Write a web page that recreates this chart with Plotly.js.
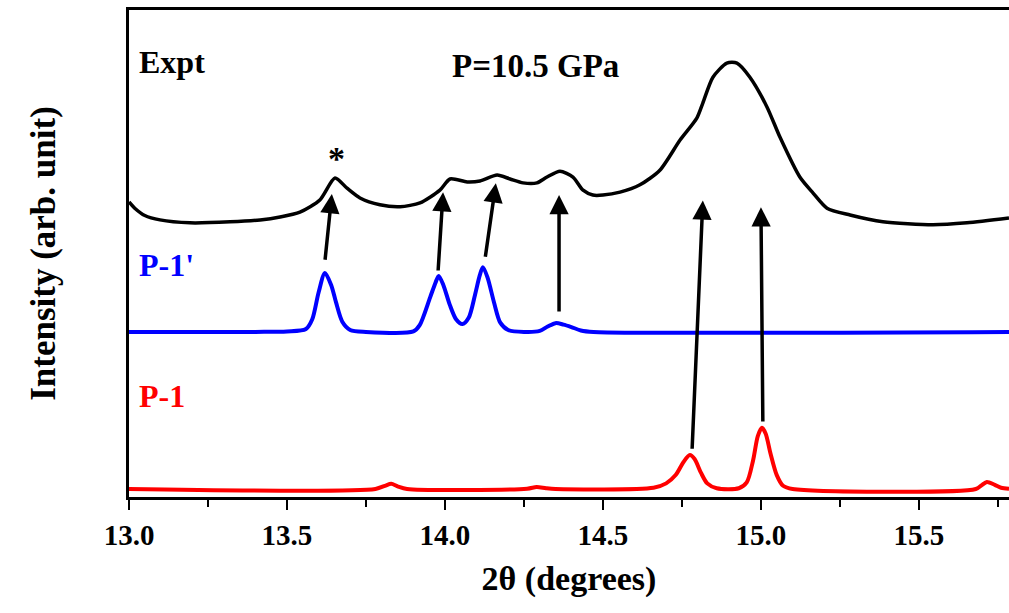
<!DOCTYPE html>
<html>
<head>
<meta charset="utf-8">
<script src="https://cdn.plot.ly/plotly-3.0.1.min.js"></script>
<style>html,body{margin:0;padding:0;background:#fff;}#chart{width:1009px;height:613px;}</style>
</head>
<body>
<div id="chart"></div>
<script>
// Experimental pattern (2θ in degrees, intensity offset, arb. unit)
const exptX = [13.00,13.02,13.05,13.098,13.193,13.320,13.415,13.478,13.541,13.604,13.652,13.690,13.731,13.794,13.858,13.921,13.984,14.016,14.070,14.111,14.165,14.206,14.247,14.291,14.323,14.364,14.405,14.437,14.468,14.500,14.554,14.617,14.680,14.744,14.797,14.816,14.848,14.892,14.924,14.965,15.019,15.060,15.123,15.165,15.209,15.282,15.386,15.544,15.652,15.785];
const exptY = [60.6,59.2,57.8,56.9,56.3,56.5,56.9,57.5,58.5,61.0,65.5,63.4,61.4,60.0,59.6,60.4,63.0,65.3,64.7,64.9,66.1,65.3,64.5,64.5,65.7,66.9,65.7,63.0,62.0,62.0,62.6,64.1,67.1,73.3,77.8,80.9,86.2,89.1,89.1,86.2,80.1,73.9,65.7,62.4,59.3,57.9,56.5,55.9,56.3,57.3];

// Simulated P-1' pattern
const p1pX = [13.00,13.40,13.50,13.56,13.58,13.60,13.62,13.64,13.655,13.675,13.70,13.75,13.90,13.92,13.953,13.97,13.98,13.995,14.015,14.035,14.055,14.075,14.095,14.11,14.12,14.135,14.155,14.175,14.20,14.25,14.30,14.325,14.35,14.375,14.40,14.43,14.47,15.785];
const p1pY = [33.9,33.9,34.0,34.5,36.5,42.0,46.0,43.5,40.0,36.0,34.3,33.9,34.0,35.3,41.0,44.0,45.4,43.5,39.5,36.5,35.5,36.8,41.5,45.5,47.2,45.0,40.0,35.8,34.3,33.9,34.1,35.0,35.7,35.4,34.9,34.2,33.9,33.9];

// Simulated P-1 pattern
const p1X = [13.00,13.78,13.81,13.83,13.85,13.88,14.26,14.29,14.32,14.35,14.66,14.70,14.73,14.755,14.775,14.79,14.81,14.83,14.86,14.93,14.955,14.975,14.99,15.003,15.015,15.03,15.05,15.07,15.10,15.68,15.70,15.715,15.74,15.76,15.785];
const p1Y = [1.65,1.65,2.3,2.7,2.2,1.65,1.7,2.05,1.8,1.65,1.9,2.8,4.5,7.2,8.6,7.8,5.0,2.8,1.8,1.8,3.0,7.5,12.5,14.2,13.0,9.0,4.5,2.3,1.65,1.65,2.5,3.1,2.5,1.9,1.7];

// Peak-correspondence arrows: [tailX, tailY, tipX, tipY]
const arrows = [
  [13.620,48.4,13.642,62.2],
  [13.978,46.2,13.994,62.6],
  [14.127,49.0,14.161,64.4],
  [14.361,37.8,14.361,62.0],
  [14.782,9.6,14.816,60.9],
  [15.006,15.2,15.000,59.5]
];

// Text labels: [text, x, y, color, size, anchor]
const labels = [
  ['Expt',13.025,89.3,'#000000',32,'left'],
  ['P=10.5 GPa',14.285,88.6,'#000000',33,'center'],
  ['*',13.658,69.6,'#000000',34,'center'],
  ["P-1'",13.025,47.6,'#0000ff',32,'left'],
  ['P-1',13.025,20.8,'#ff0000',32,'left']
];
const xTicks = [13.0,13.5,14.0,14.5,15.0,15.5];
const xTickText = ['13.0','13.5','14.0','14.5','15.0','15.5'];
const xMinorTicks = [13.25,13.75,14.25,14.75,15.25,15.75];

const FONT = 'Liberation Serif';
const traces = [
  {x: exptX, y: exptY, mode:'lines', line:{color:'#000000', width:3.5, shape:'spline', smoothing:0.7}, name:'Expt'},
  {x: p1pX, y: p1pY, mode:'lines', line:{color:'#0000ff', width:4, shape:'spline', smoothing:0.8}, name:"P-1'"},
  {x: p1X, y: p1Y, mode:'lines', line:{color:'#ff0000', width:4, shape:'spline', smoothing:0.8}, name:'P-1'}
];

const annotations = [];
arrows.forEach(a => annotations.push({
  x:a[2], y:a[3], ax:a[0], ay:a[1], xref:'x', yref:'y', axref:'x', ayref:'y',
  text:'', showarrow:true, arrowhead:2, arrowsize:1.1, arrowwidth:3.5, arrowcolor:'#000000'
}));
labels.forEach(l => annotations.push({
  x:l[1], y:l[2], xref:'x', yref:'y', text:'<b>'+l[0]+'</b>', showarrow:false,
  xanchor:l[5], yanchor:'middle', font:{family:FONT, size:l[4], color:l[3]}
}));

const layout = {
  width:1009, height:613,
  margin:{l:129, r:0, t:10, b:116},
  paper_bgcolor:'#ffffff', plot_bgcolor:'#ffffff',
  showlegend:false,
  font:{family:FONT, color:'#000000'},
  xaxis:{
    range:[13.0,15.785], showgrid:false, zeroline:false,
    showline:true, linecolor:'#000000', linewidth:3, mirror:true,
    ticks:'outside', ticklen:10, tickwidth:2.5, tickcolor:'#000000',
    tickvals:xTicks, ticktext:xTickText.map(t => '<b>'+t+'</b>'),
    tickfont:{family:FONT, size:29, color:'#000000'},
    minor:{tickvals:xMinorTicks, ticks:'outside', ticklen:7, tickwidth:2.5, tickcolor:'#000000'},
    title:{text:'<b>2θ (degrees)</b>', font:{family:FONT, size:34, color:'#000000'}, standoff:17}
  },
  yaxis:{
    range:[0,100], showgrid:false, zeroline:false,
    showline:true, linecolor:'#000000', linewidth:3, mirror:false,
    ticks:'', showticklabels:false,
    title:{text:'<b>Intensity (arb. unit)</b>', font:{family:FONT, size:35, color:'#000000'}, standoff:60}
  },
  annotations: annotations
};
Plotly.newPlot('chart', traces, layout, {staticPlot:true, displayModeBar:false});
</script>
</body>
</html>
